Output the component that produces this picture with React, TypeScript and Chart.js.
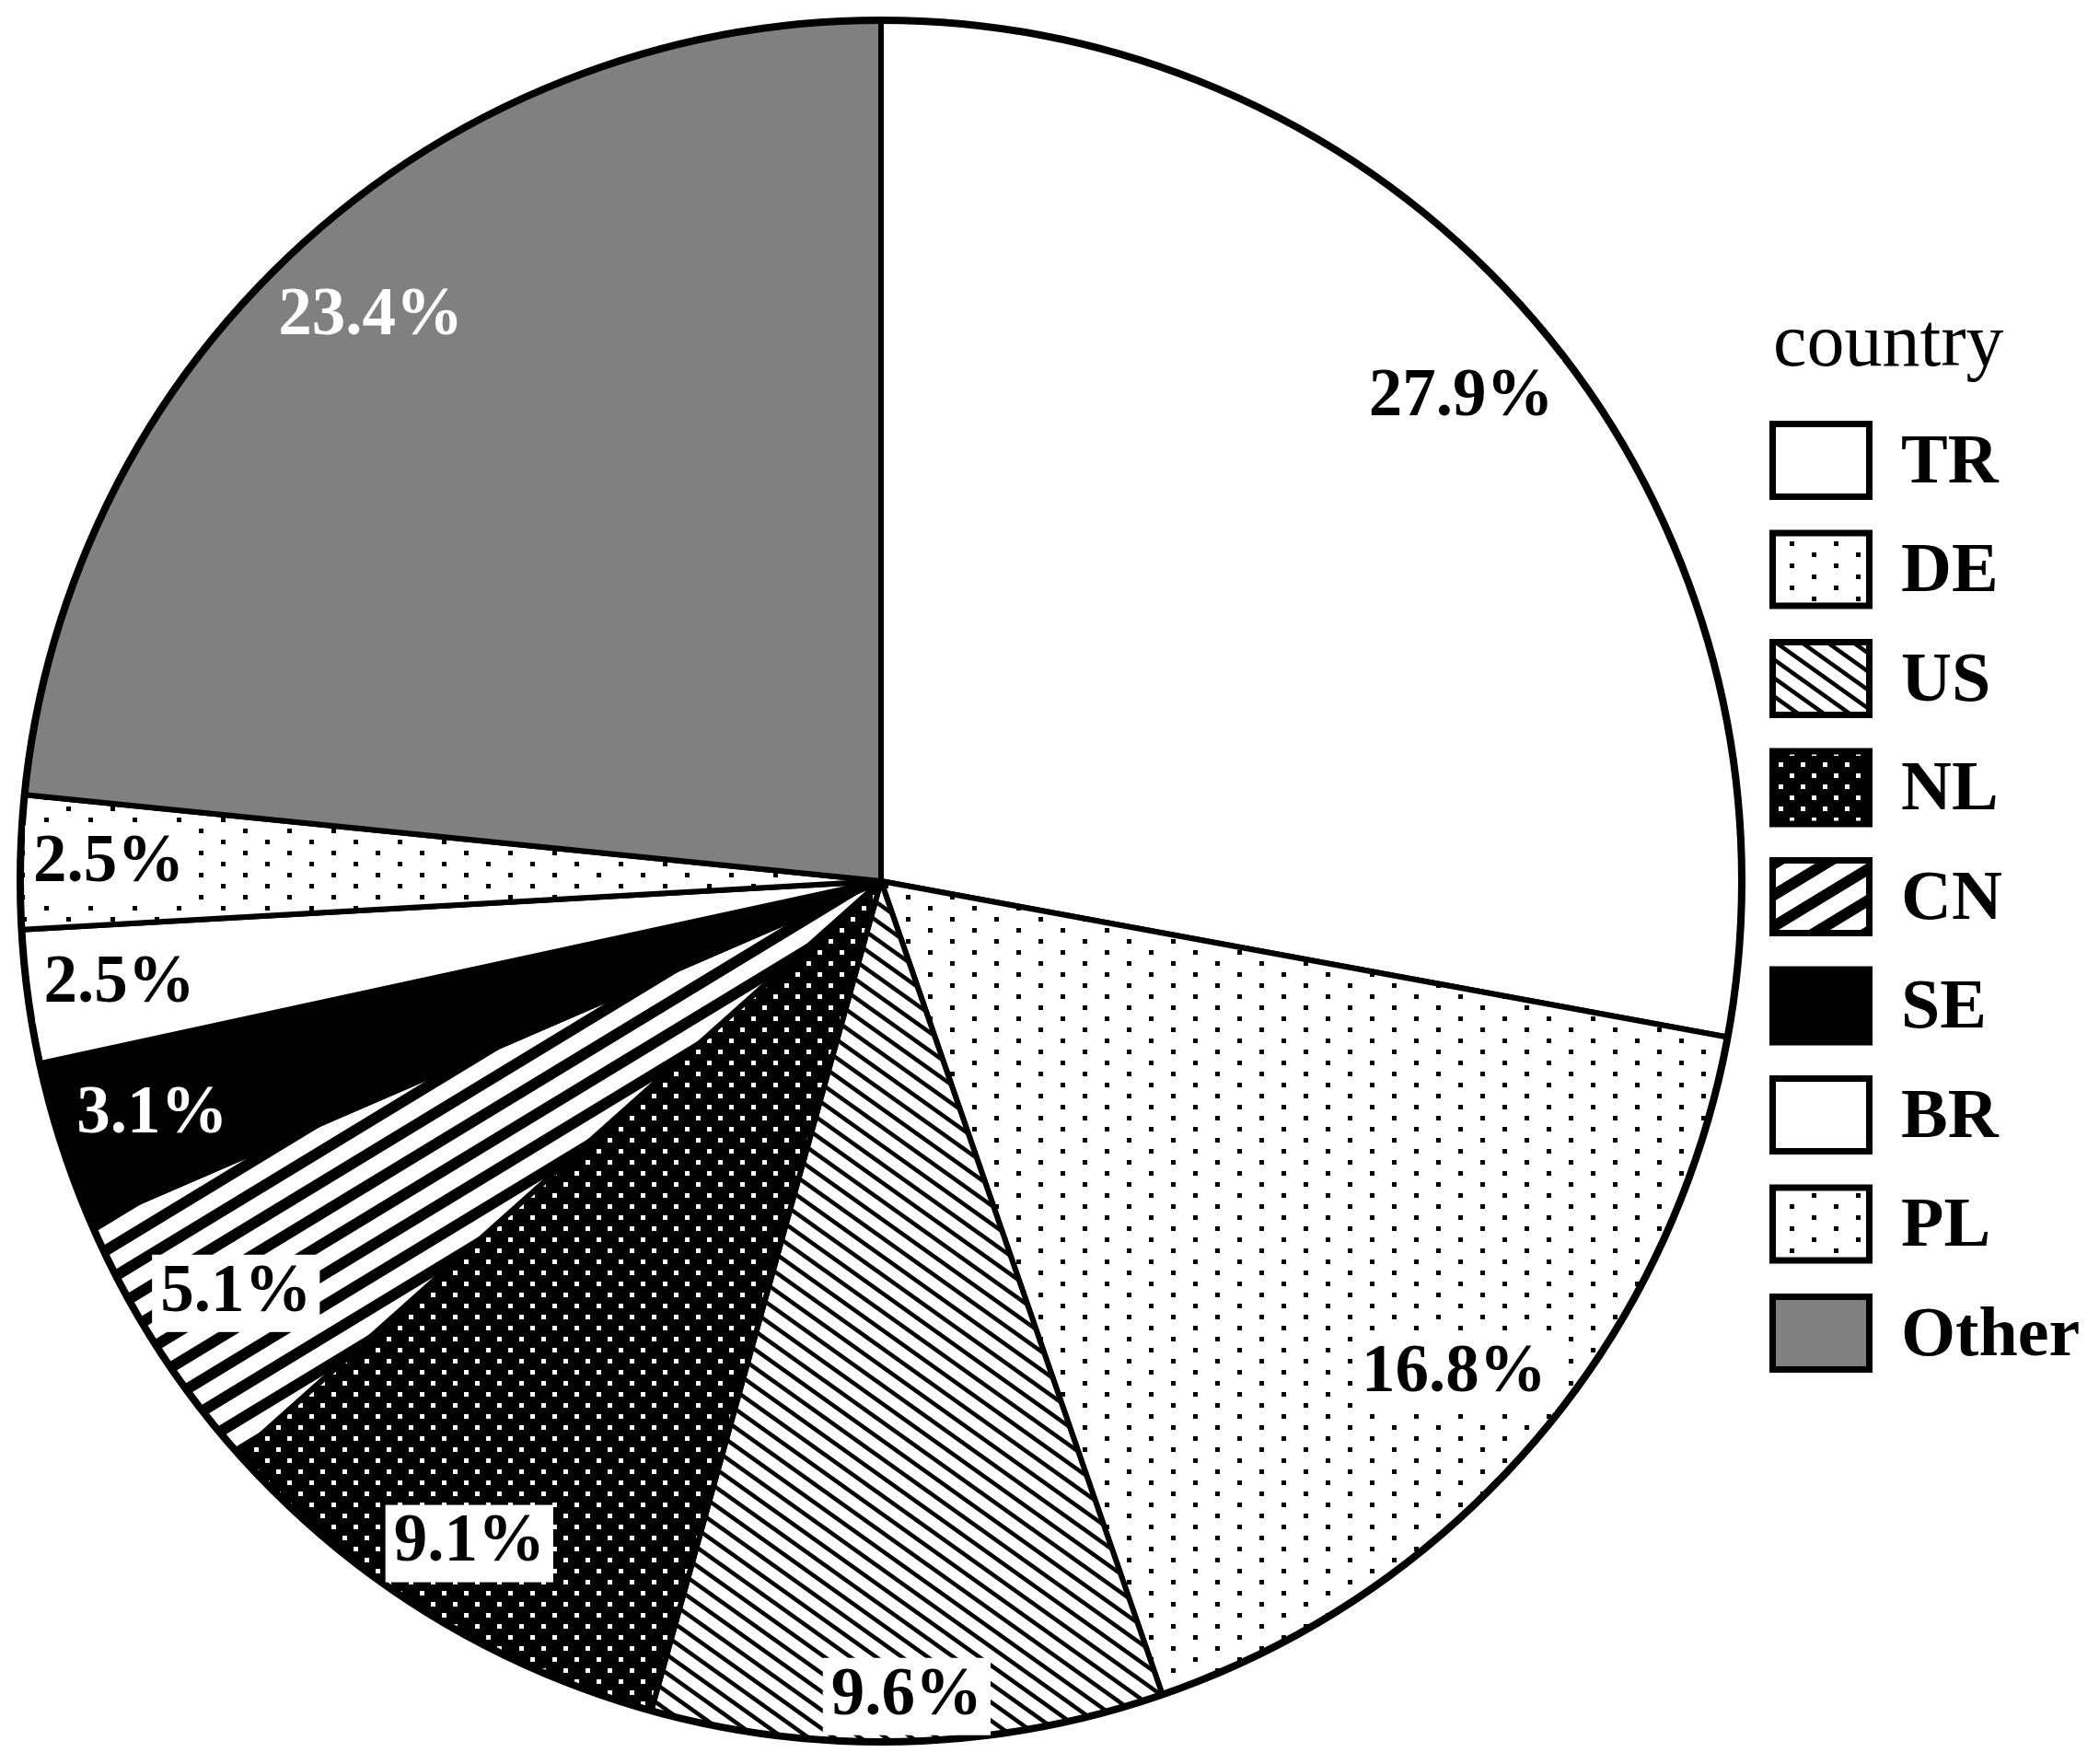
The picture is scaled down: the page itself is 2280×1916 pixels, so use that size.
import React, { useEffect, useRef } from 'react';
import { Chart, registerables } from 'chart.js';

Chart.register(...registerables);

// ---------- data ----------
const countries = ['TR', 'DE', 'US', 'NL', 'CN', 'SE', 'BR', 'PL', 'Other'];
const shares = [27.9, 16.8, 9.6, 9.1, 5.1, 3.1, 2.5, 2.5, 23.4];
const legendTitle = 'country';

// ---------- styles ----------
const fillKinds = ['white', 'dots', 'hatch', 'dotsOnBlack', 'stripes', 'black', 'white', 'dots', 'gray'];
const labelTextColors = ['#000', '#000', '#000', '#000', '#000', '#fff', '#000', '#000', '#fff'];
const labelBoxFills: (string | null)[] = ['#fff', '#fff', '#fff', '#fff', '#fff', null, '#fff', '#fff', null];

const SERIF = '"Liberation Serif", "Times New Roman", Times, serif';

function tile(w: number, h: number, draw: (g: CanvasRenderingContext2D, w: number, h: number) => void) {
  const c = document.createElement('canvas');
  c.width = w;
  c.height = h;
  const g = c.getContext('2d')!;
  draw(g, w, h);
  return c;
}

function makeFill(ctx: CanvasRenderingContext2D, kind: string): string | CanvasPattern {
  if (kind === 'white') return '#ffffff';
  if (kind === 'black') return '#000000';
  if (kind === 'gray') return '#808080';
  let t: HTMLCanvasElement;
  if (kind === 'dots') {
    t = tile(48, 24, (g, w, h) => {
      g.fillStyle = '#fff';
      g.fillRect(0, 0, w, h);
      g.fillStyle = '#000';
      g.fillRect(0, 0, 5, 5);
      g.fillRect(24, 12, 5, 5);
    });
  } else if (kind === 'dotsOnBlack') {
    t = tile(24, 24, (g, w, h) => {
      g.fillStyle = '#000';
      g.fillRect(0, 0, w, h);
      g.fillStyle = '#fff';
      g.fillRect(0, 0, 5, 5);
      g.fillRect(12, 12, 5, 5);
    });
  } else if (kind === 'hatch') {
    t = tile(28, 20, (g, w, h) => {
      g.fillStyle = '#fff';
      g.fillRect(0, 0, w, h);
      g.strokeStyle = '#000';
      g.lineWidth = 4.5;
      for (const dx of [-w, 0, w]) {
        g.beginPath();
        g.moveTo(dx - w, -h);
        g.lineTo(dx + 2 * w, 2 * h);
        g.stroke();
      }
    });
  } else {
    t = tile(56, 34, (g, w, h) => {
      g.fillStyle = '#fff';
      g.fillRect(0, 0, w, h);
      g.strokeStyle = '#000';
      g.lineWidth = 12;
      for (const dx of [-w, 0, w]) {
        g.beginPath();
        g.moveTo(dx - w, 2 * h);
        g.lineTo(dx + 2 * w, -h);
        g.stroke();
      }
    });
  }
  return ctx.createPattern(t, 'repeat')!;
}

const decorPlugin = {
  id: 'pieDecor',
  afterDatasetsDraw(chart: any) {
    const ctx: CanvasRenderingContext2D = chart.ctx;
    const meta = chart.getDatasetMeta(0);
    const arcs = meta.data;
    if (!arcs.length) return;
    const ds = chart.data.datasets[0];
    const p0 = arcs[0].getProps(['x', 'y', 'outerRadius'], true);
    ctx.save();
    // outer ring
    ctx.beginPath();
    ctx.arc(p0.x, p0.y, p0.outerRadius, 0, Math.PI * 2);
    ctx.lineWidth = 8;
    ctx.strokeStyle = '#000';
    ctx.stroke();

    // percentage labels
    ctx.font = `bold 73px ${SERIF}`;
    ctx.textAlign = 'center';
    ctx.textBaseline = 'middle';
    arcs.forEach((arc: any, i: number) => {
      const p = arc.getProps(['x', 'y', 'startAngle', 'endAngle', 'outerRadius'], true);
      const a = (p.startAngle + p.endAngle) / 2;
      const txt = Number(ds.data[i]).toFixed(1) + '%';
      const tw = ctx.measureText(txt).width;
      const w = tw + 18;
      const h = 84;
      const ext = Math.abs((w / 2) * Math.cos(a)) + Math.abs((h / 2) * Math.sin(a));
      const d = p.outerRadius - 4 - ext;
      const cx = p.x + d * Math.cos(a);
      const cy = p.y + d * Math.sin(a);
      const bf = labelBoxFills[i];
      if (bf) {
        ctx.fillStyle = bf;
        ctx.fillRect(cx - w / 2, cy - h / 2, w, h);
      }
      ctx.fillStyle = labelTextColors[i];
      ctx.fillText(txt, cx, cy);
    });

    // legend
    const bx = 1925.5;
    const bw = 105;
    const bh = 79;
    ctx.textAlign = 'left';
    ctx.textBaseline = 'alphabetic';
    ctx.fillStyle = '#000';
    ctx.font = `82px ${SERIF}`;
    ctx.fillText(legendTitle, 1926, 397);
    ctx.font = `bold 76px ${SERIF}`;
    ctx.textBaseline = 'middle';
    (chart.data.labels as string[]).forEach((lab, i) => {
      const cy = 500 + i * 118.5;
      ctx.beginPath();
      ctx.rect(bx, cy - bh / 2, bw, bh);
      ctx.fillStyle = ds.backgroundColor[i];
      ctx.fill();
      ctx.lineWidth = 7;
      ctx.strokeStyle = '#000';
      ctx.stroke();
      ctx.fillStyle = '#000';
      ctx.fillText(lab, 2065, cy + 4);
    });
    ctx.restore();
  },
};

export default function App() {
  const ref = useRef<HTMLCanvasElement>(null);
  useEffect(() => {
    const canvas = ref.current!;
    const ctx = canvas.getContext('2d')!;
    const fills = fillKinds.map((k) => makeFill(ctx, k));
    const chart = new Chart(canvas, {
      type: 'pie',
      data: {
        labels: countries,
        datasets: [
          {
            data: shares,
            backgroundColor: fills as any,
            borderColor: '#000',
            borderWidth: 6,
            borderJoinStyle: 'round' as any,
            radius: 935,
            clip: false as any,
          },
        ],
      },
      options: {
        responsive: false,
        maintainAspectRatio: false,
        devicePixelRatio: 1,
        animation: false,
        events: [],
        layout: { padding: { left: 0, right: 366, top: 0, bottom: 2 } },
        plugins: {
          legend: { display: false },
          tooltip: { enabled: false },
          title: { display: false },
        },
      },
      plugins: [decorPlugin],
    });
    return () => chart.destroy();
  }, []);
  return (
    <div style={{ position: 'fixed', left: 0, top: 0, width: 2280, height: 1916, background: '#fff' }}>
      <canvas ref={ref} width={2280} height={1916} style={{ display: 'block' }} />
    </div>
  );
}
